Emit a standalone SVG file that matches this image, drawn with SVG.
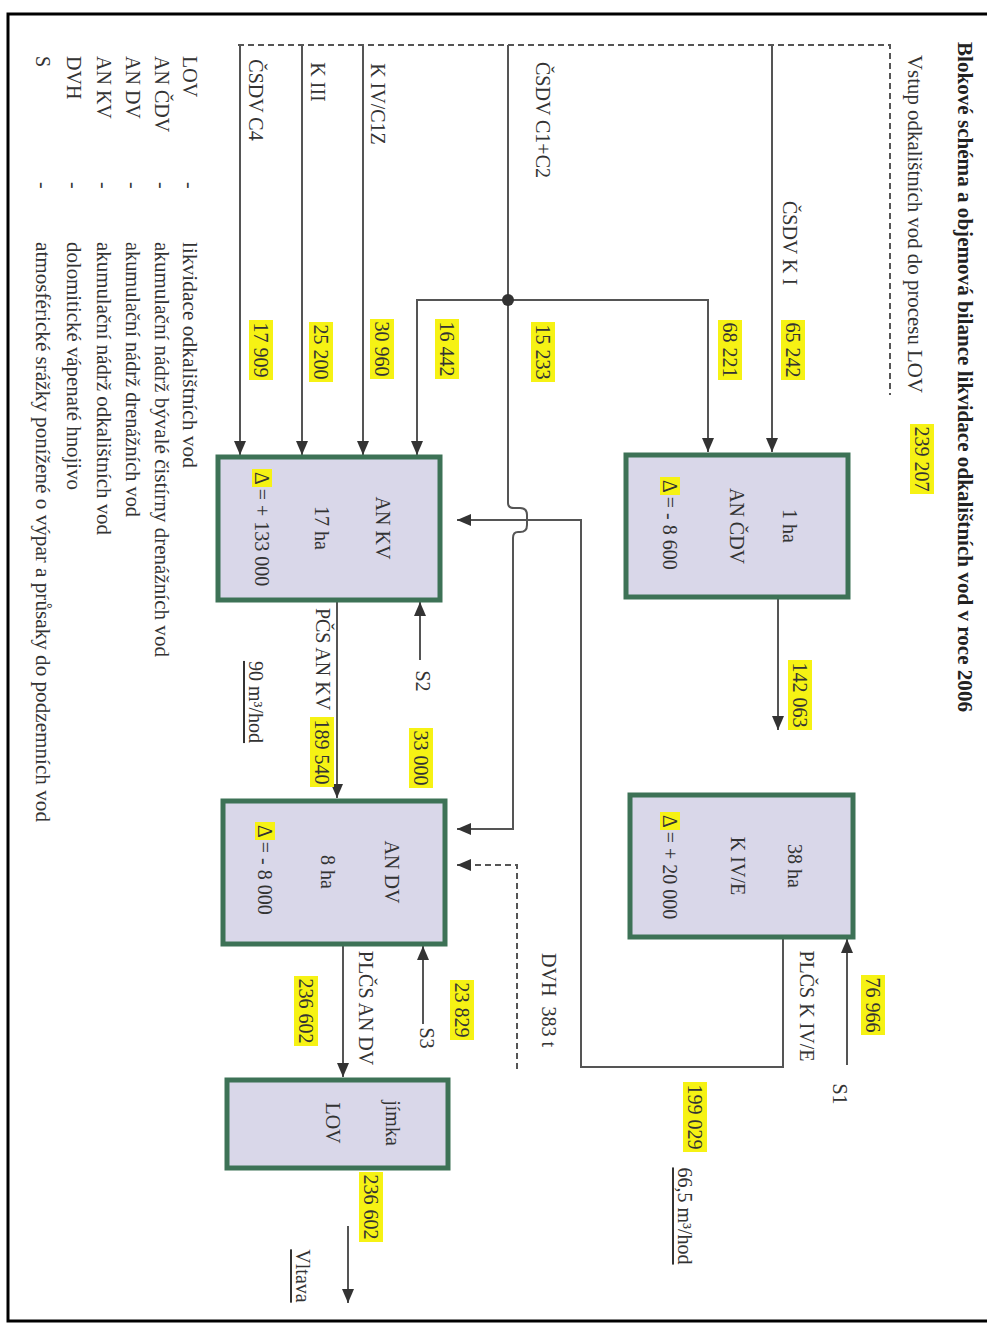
<svg xmlns="http://www.w3.org/2000/svg" width="987" height="1326" viewBox="0 0 987 1326">
<style>
.t{font-family:"Liberation Serif","Times New Roman",serif;font-size:20px;fill:#333;dominant-baseline:central}
.m{text-anchor:middle}
.b{font-weight:bold;fill:#222}
.lg{font-size:20px}
.hl{fill:#f6f214}
.box{fill:#d9d7e9;stroke:#3d7256;stroke-width:5}
.ln{fill:none;stroke:#555;stroke-width:2}
.dash{stroke-dasharray:6 4}
.u{text-decoration:underline}
</style>
<defs>
<marker id="ah" viewBox="0 0 14 12" refX="14" refY="6" markerWidth="14" markerHeight="12" markerUnits="userSpaceOnUse" orient="auto">
<path d="M0,0 L14,6 L0,12 z" fill="#333"/>
</marker>
</defs>
<rect width="987" height="1326" fill="#fff"/>
<rect x="8" y="14" width="990" height="1307" fill="none" stroke="#000" stroke-width="3"/>

<g id="title">
<text class="t b m" transform="translate(965,377) rotate(90)" textLength="670" lengthAdjust="spacingAndGlyphs">Blokové schéma a objemová bilance likvidace odkalištních vod v roce 2006</text>
<text class="t m" transform="translate(915,224) rotate(90)" textLength="338" lengthAdjust="spacingAndGlyphs">Vstup odkalištních vod do procesu LOV</text>
<rect class="hl" x="910" y="424" width="24" height="70"/>
<text class="t m" transform="translate(922,459) rotate(90)">239 207</text>
</g>

<g id="connectors">
<path class="ln dash" d="M238,45 H890 V395"/>
<path class="ln" d="M772,45 V452" marker-end="url(#ah)"/>
<path class="ln" d="M508,300 H708 V452" marker-end="url(#ah)"/>
<path class="ln" d="M508,300 H417 V455" marker-end="url(#ah)"/>
<path class="ln" d="M508,45 V503 Q508,508 514,508 L520,508 Q527,508 527,515 V525 Q527,532 520,532 L518,532 Q513,532 513,538 V829 H457" marker-end="url(#ah)"/>
<path class="ln" d="M363,45 V455" marker-end="url(#ah)"/>
<path class="ln" d="M302,45 V455" marker-end="url(#ah)"/>
<path class="ln" d="M240,45 V455" marker-end="url(#ah)"/>
<path class="ln" d="M778,597 V730" marker-end="url(#ah)"/>
<path class="ln" d="M847,1065 V939" marker-end="url(#ah)"/>
<path class="ln" d="M783,937 V1067 H581 V520 H457" marker-end="url(#ah)"/>
<path class="ln" d="M420,660 V602" marker-end="url(#ah)"/>
<path class="ln" d="M337,600 V798" marker-end="url(#ah)"/>
<path class="ln" d="M423,1024 V946" marker-end="url(#ah)"/>
<path class="ln dash" d="M517,1069 V865 H457" marker-end="url(#ah)"/>
<path class="ln" d="M343,944 V1077" marker-end="url(#ah)"/>
<path class="ln" d="M348,1226 V1303" marker-end="url(#ah)"/>
<circle cx="508" cy="300" r="6" fill="#333"/>
</g>

<g id="labels">
<text class="t m" transform="translate(790,243) rotate(90)">ČSDV K I</text>
<rect class="hl" x="781" y="320" width="24" height="60"/>
<text class="t m" transform="translate(793,350) rotate(90)">65 242</text>
<rect class="hl" x="718" y="320" width="24" height="60"/>
<text class="t m" transform="translate(730,350) rotate(90)">68 221</text>
<text class="t m" transform="translate(543,120) rotate(90)">ČSDV C1+C2</text>
<rect class="hl" x="531" y="322" width="24" height="60"/>
<text class="t m" transform="translate(543,352) rotate(90)">15 233</text>
<rect class="hl" x="435" y="319" width="24" height="60"/>
<text class="t m" transform="translate(447,349) rotate(90)">16 442</text>
<text class="t m" transform="translate(378,104) rotate(90)">K IV/C1Z</text>
<rect class="hl" x="370" y="319" width="24" height="60"/>
<text class="t m" transform="translate(382,349) rotate(90)">30 960</text>
<text class="t m" transform="translate(318,82) rotate(90)">K III</text>
<rect class="hl" x="309" y="322" width="24" height="60"/>
<text class="t m" transform="translate(321,352) rotate(90)">25 200</text>
<text class="t m" transform="translate(256,100) rotate(90)">ČSDV C4</text>
<rect class="hl" x="249" y="320" width="24" height="60"/>
<text class="t m" transform="translate(261,350) rotate(90)">17 909</text>
<rect class="hl" x="788" y="660" width="24" height="70"/>
<text class="t m" transform="translate(800,695) rotate(90)">142 063</text>
<text class="t m" transform="translate(840,1094) rotate(90)">S1</text>
<rect class="hl" x="861" y="975" width="24" height="60"/>
<text class="t m" transform="translate(873,1005) rotate(90)">76 966</text>
<text class="t m" transform="translate(807,1006) rotate(90)">PLČS K IV/E</text>
<rect class="hl" x="683" y="1082" width="24" height="70"/>
<text class="t m" transform="translate(695,1117) rotate(90)">199 029</text>
<text class="t m u" transform="translate(685,1216) rotate(90)">66,5 m³/hod</text>
<text class="t m" transform="translate(423,681) rotate(90)">S2</text>
<rect class="hl" x="409" y="728" width="24" height="60"/>
<text class="t m" transform="translate(421,758) rotate(90)">33 000</text>
<text class="t m" transform="translate(323,659) rotate(90)">PČS AN KV</text>
<rect class="hl" x="310" y="717" width="24" height="70"/>
<text class="t m" transform="translate(322,752) rotate(90)">189 540</text>
<text class="t m u" transform="translate(256,702) rotate(90)">90 m³/hod</text>
<text class="t m" transform="translate(427,1038) rotate(90)">S3</text>
<rect class="hl" x="450" y="980" width="24" height="60"/>
<text class="t m" transform="translate(462,1010) rotate(90)">23 829</text>
<text class="t m" transform="translate(549,1000) rotate(90)" xml:space="preserve">DVH  383 t</text>
<text class="t m" transform="translate(366,1008) rotate(90)">PLČS AN DV</text>
<rect class="hl" x="294" y="976" width="24" height="70"/>
<text class="t m" transform="translate(306,1011) rotate(90)">236 602</text>
<rect class="hl" x="359" y="1172" width="24" height="70"/>
<text class="t m" transform="translate(371,1207) rotate(90)">236 602</text>
<text class="t m u" transform="translate(303,1276) rotate(90)">Vltava</text>
</g>

<g id="an-cdv">
<rect class="box" x="626" y="455" width="222" height="142"/>
<text class="t m" transform="translate(790,526) rotate(90)">1 ha</text>
<text class="t m" transform="translate(737,526) rotate(90)">AN ČDV</text>
<rect class="hl" x="660" y="477" width="20" height="18"/>
<text class="t" transform="translate(670,480) rotate(90)">Δ = - 8 600</text>
</g>

<g id="k-ive">
<rect class="box" x="630" y="795" width="223" height="142"/>
<text class="t m" transform="translate(795,866) rotate(90)">38 ha</text>
<text class="t m" transform="translate(738,866) rotate(90)">K IV/E</text>
<rect class="hl" x="660" y="812" width="20" height="18"/>
<text class="t" transform="translate(670,815) rotate(90)">Δ = + 20 000</text>
</g>

<g id="an-kv">
<rect class="box" x="218" y="457" width="222" height="143"/>
<text class="t m" transform="translate(383,528) rotate(90)">AN KV</text>
<text class="t m" transform="translate(322,528) rotate(90)">17 ha</text>
<rect class="hl" x="252" y="469" width="20" height="18"/>
<text class="t" transform="translate(262,472) rotate(90)">Δ = + 133 000</text>
</g>

<g id="an-dv">
<rect class="box" x="223" y="801" width="222" height="143"/>
<text class="t m" transform="translate(392,872) rotate(90)">AN DV</text>
<text class="t m" transform="translate(328,872) rotate(90)">8 ha</text>
<rect class="hl" x="255" y="822" width="20" height="18"/>
<text class="t" transform="translate(265,825) rotate(90)">Δ = - 8 000</text>
</g>

<g id="lov">
<rect class="box" x="227" y="1080" width="221" height="88"/>
<text class="t m" transform="translate(393,1123) rotate(90)">jímka</text>
<text class="t m" transform="translate(333,1123) rotate(90)">LOV</text>
</g>

<g id="legend">
<text class="t lg" transform="translate(190,56) rotate(90)">LOV</text>
<text class="t lg" transform="translate(162,56) rotate(90)">AN ČDV</text>
<text class="t lg" transform="translate(133,56) rotate(90)">AN DV</text>
<text class="t lg" transform="translate(104,56) rotate(90)">AN KV</text>
<text class="t lg" transform="translate(74,56) rotate(90)">DVH</text>
<text class="t lg" transform="translate(43,56) rotate(90)">S</text>
<text class="t lg" transform="translate(190,182) rotate(90)">-</text>
<text class="t lg" transform="translate(162,182) rotate(90)">-</text>
<text class="t lg" transform="translate(133,182) rotate(90)">-</text>
<text class="t lg" transform="translate(104,182) rotate(90)">-</text>
<text class="t lg" transform="translate(74,182) rotate(90)">-</text>
<text class="t lg" transform="translate(43,182) rotate(90)">-</text>
<text class="t lg" transform="translate(190,242) rotate(90)" textLength="226" lengthAdjust="spacingAndGlyphs">likvidace odkalištních vod</text>
<text class="t lg" transform="translate(162,242) rotate(90)" textLength="415" lengthAdjust="spacingAndGlyphs">akumulační nádrž bývalé čistírny drenážních vod</text>
<text class="t lg" transform="translate(133,242) rotate(90)" textLength="275" lengthAdjust="spacingAndGlyphs">akumulační nádrž drenážních vod</text>
<text class="t lg" transform="translate(104,242) rotate(90)" textLength="293" lengthAdjust="spacingAndGlyphs">akumulační nádrž odkalištních vod</text>
<text class="t lg" transform="translate(74,242) rotate(90)" textLength="248" lengthAdjust="spacingAndGlyphs">dolomitické vápenaté hnojivo</text>
<text class="t lg" transform="translate(43,242) rotate(90)" textLength="580" lengthAdjust="spacingAndGlyphs">atmosférické srážky ponížené o výpar a průsaky do podzemních vod</text>
</g>
</svg>
